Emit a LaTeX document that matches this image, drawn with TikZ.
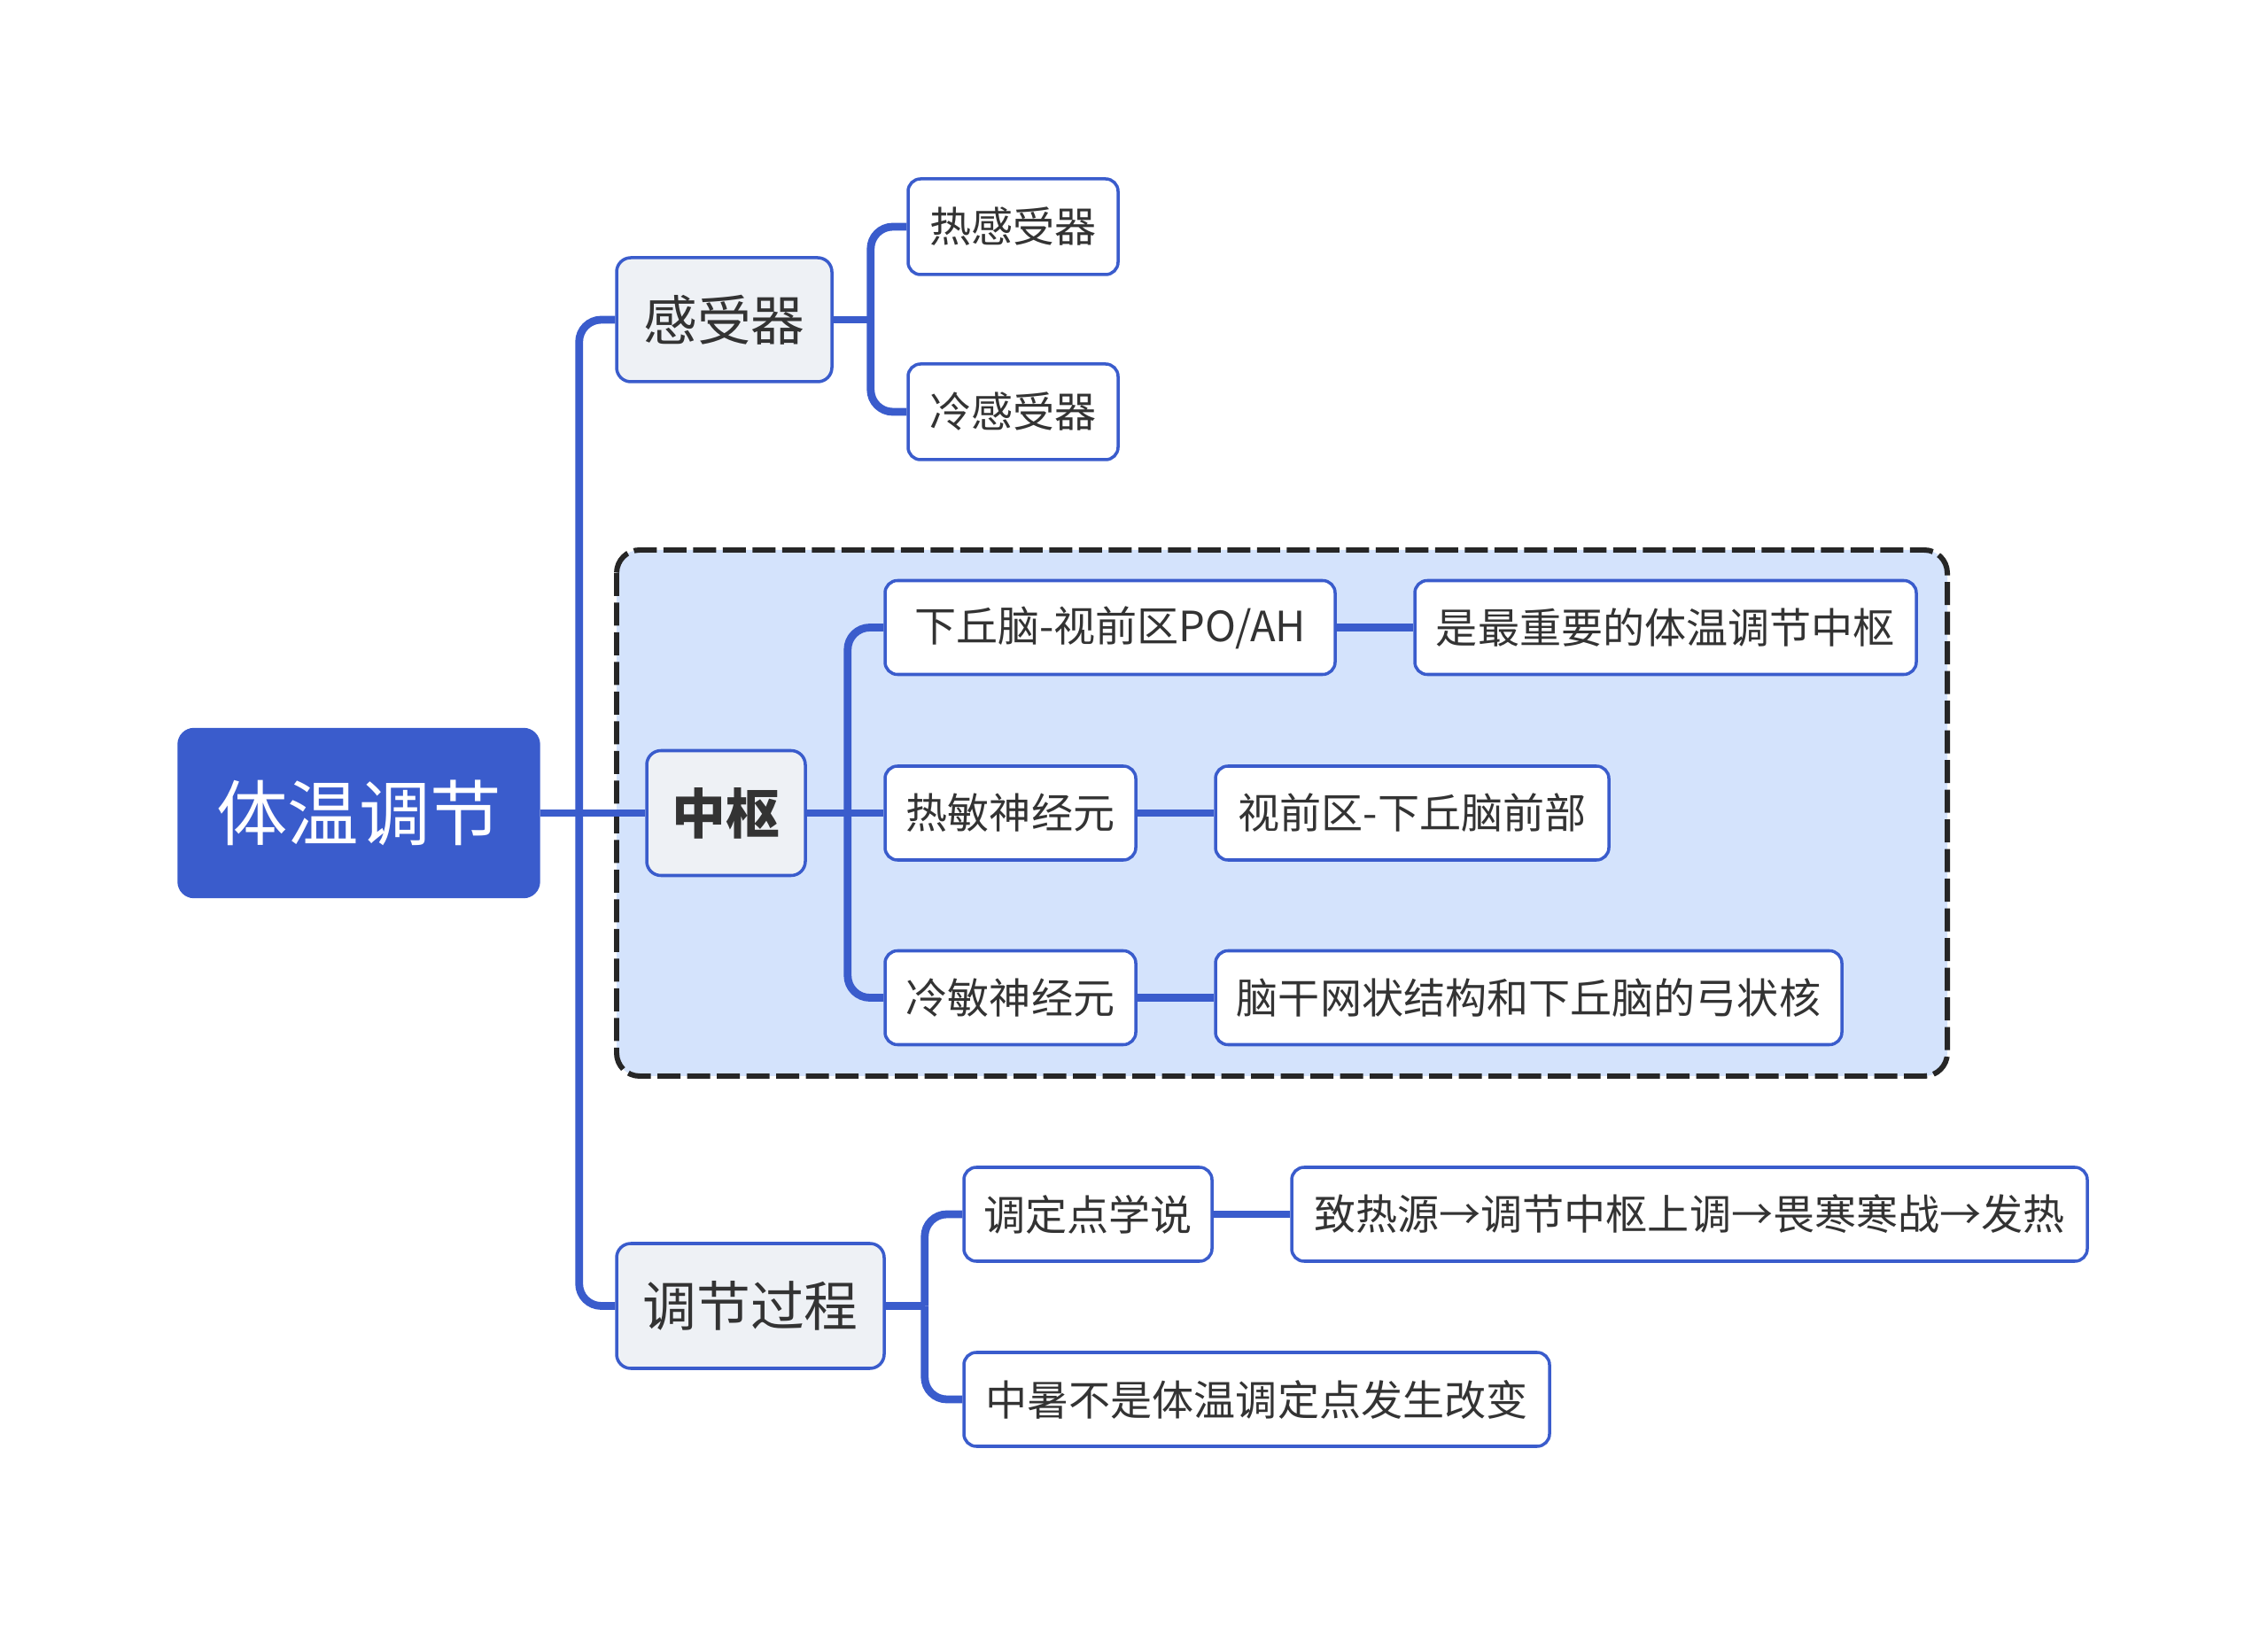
\documentclass[tikz,border=0pt]{standalone}
\usepackage{fontspec}
\setmainfont{Noto Sans CJK SC}
\usepackage{xcolor}
\usepackage{tikz}
\usetikzlibrary{positioning,calc}

\definecolor{mapblue}{HTML}{3A5CCC}
\definecolor{topicgray}{HTML}{EEF1F5}
\definecolor{zonefill}{HTML}{D4E3FC}
\definecolor{inkgray}{HTML}{333333}

\begin{document}
\begin{tikzpicture}[
    every node/.style={text=inkgray, align=center, inner sep=0pt},
    rootbox/.style={fill=mapblue, draw=mapblue, rounded corners=0.18cm, text=white,
        font=\fontsize{22.9}{26}\selectfont, minimum width=4.08cm, minimum height=1.91cm},
    topicbox/.style={fill=topicgray, draw=mapblue, line width=1pt, rounded corners=0.16cm,
        font=\fontsize{17.3}{20}\selectfont, minimum height=1.41cm},
    leafbox/.style={fill=white, draw=mapblue, line width=1pt, rounded corners=0.14cm,
        font=\fontsize{13.4}{16}\selectfont, minimum height=1.06cm},
    link/.style={draw=mapblue, line width=2.5pt, rounded corners=0.25cm},
    zone/.style={fill=zonefill, draw=black!85, line width=1.7pt,
        dash pattern=on 0.26cm off 0.075cm, rounded corners=0.26cm},
]
\useasboundingbox (0,0) rectangle (25.6,-18.37);
\fill[white] (0,0) rectangle (25.6,-18.37);

% =====================================================================
% Highlighted zone round the central branch
% =====================================================================
\draw[zone] (6.96,-6.21) rectangle (21.98,-12.15);

% =====================================================================
% Root and first-level topics
% =====================================================================
\node[rootbox] (root) at (4.05,-9.18) {体温调节};
\node[topicbox, minimum width=2.43cm, minimum height=1.40cm] (sens) at (8.175,-3.61) {感受器};
\node[topicbox, minimum width=1.79cm, font=\fontsize{17.3}{20}\selectfont\bfseries] (hub) at (8.195,-9.18) {中枢};
\node[topicbox, minimum width=3.02cm] (proc) at (8.47,-14.745) {调节过程};

% =====================================================================
% Leaves
% =====================================================================
\node[leafbox, minimum width=2.37cm, minimum height=1.08cm] (hot) at (11.435,-2.56) {热感受器};
\node[leafbox, minimum width=2.37cm, minimum height=1.08cm] (cold) at (11.435,-4.65) {冷感受器};

\node[leafbox, minimum width=5.08cm] (poah) at (12.53,-7.085) {下丘脑-视前区PO/AH};
\node[leafbox, minimum width=5.66cm] (poahnote) at (18.80,-7.085) {是最重要的体温调节中枢};
\node[leafbox, minimum width=2.83cm] (warm) at (11.405,-9.18) {热敏神经元};
\node[leafbox, minimum width=4.44cm] (warmnote) at (15.94,-9.18) {视前区-下丘脑前部};
\node[leafbox, minimum width=2.83cm] (cool) at (11.405,-11.265) {冷敏神经元};
\node[leafbox, minimum width=7.07cm] (coolnote) at (17.255,-11.265) {脑干网状结构和下丘脑的弓状核};

\node[leafbox, minimum width=2.80cm] (setpt) at (12.28,-13.71) {调定点学说};
\node[leafbox, minimum width=8.98cm] (setptnote) at (19.07,-13.71) {致热源→调节中枢上调→畏寒寒战→发热};
\node[leafbox, minimum width=6.61cm] (stroke) at (14.185,-15.80) {中暑不是体温调定点发生改变};

% =====================================================================
% Connectors
% =====================================================================
\path (root.east) ++(0.44,0) coordinate (trunk);
\path (sens.east) ++(0.42,0) coordinate (sensfork);
\path (hub.east) ++(0.46,0) coordinate (hubfork);
\path (proc.east) ++(0.44,0) coordinate (procfork);

\draw[link] (root.east) -- (hub.west);
\draw[link] (trunk) |- (sens.west);
\draw[link] (trunk) |- (proc.west);

\draw[link] (sens.east) -- (sensfork);
\draw[link] (sensfork) |- (hot.west);
\draw[link] (sensfork) |- (cold.west);

\draw[link] (hub.east) -- (warm.west);
\draw[link] (hubfork) |- (poah.west);
\draw[link] (hubfork) |- (cool.west);
\draw[link] (poah.east) -- (poahnote.west);
\draw[link] (warm.east) -- (warmnote.west);
\draw[link] (cool.east) -- (coolnote.west);

\draw[link] (proc.east) -- (procfork);
\draw[link] (procfork) |- (setpt.west);
\draw[link] (procfork) |- (stroke.west);
\draw[link] (setpt.east) -- (setptnote.west);

\end{tikzpicture}
\end{document}
